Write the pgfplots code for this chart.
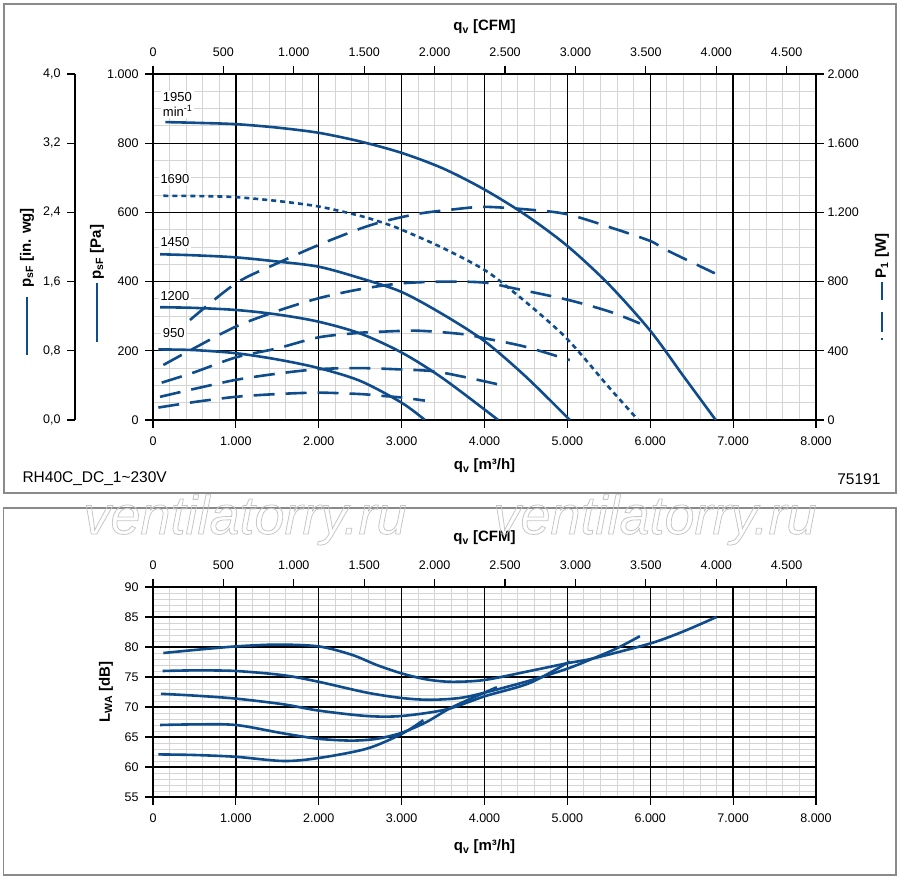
\documentclass[border=0pt]{standalone}
\usepackage{fontspec}
\setmainfont{Liberation Sans}
\usepackage{pgfplots}
\pgfplotsset{compat=1.18}
\definecolor{cblue}{HTML}{0F4C8C}
\definecolor{mgrid}{HTML}{D4D4D4}
\definecolor{frame}{HTML}{8A8A8A}
\newcommand\tl{\fontsize{12.5}{15}\selectfont}
\newcommand\ttl{\fontsize{15}{18}\selectfont\bfseries}

\pgfplotsset{
  base/.style={
    scale only axis,
    /pgf/number format/assume math mode=true,
    /pgf/number format/1000 sep={.},
    /pgf/number format/use comma,
    tick label style={font=\tl, black},
    major tick length=8pt,
    minor tick length=0pt,
    tick align=outside,
    major tick style={black, line width=1.2pt},
    axis line style={black, line width=1.5pt},
  },
  botlab/.style={xticklabel style={yshift=-5pt}},
  toplab/.style={xticklabel style={yshift=6pt}},
  leftlab/.style={yticklabel style={xshift=-3pt}},
  minorgrid/.style={
    scale only axis, grid=minor, minor grid style={mgrid, line width=0.9pt},
    xticklabels={}, yticklabels={}, major tick length=0pt, minor tick length=0pt,
    axis line style={draw=none}, major tick style={draw=none}, minor tick style={draw=none},
  },
  majorgrid/.style={
    grid=major,
    major grid style={black, line width=1.3pt},
  },
  curve/.style={cblue, line width=2.6pt, smooth, no marks},
  pdash/.style={dash pattern=on 21pt off 11pt},
  pdot/.style={dash pattern=on 5pt off 4pt},
}

\begin{document}
\begin{tikzpicture}[x=1pt,y=1pt]
\path[use as bounding box] (0pt,0pt) rectangle (900pt,879pt);
% frames
\draw[frame, line width=1.4pt] (4pt,386pt) rectangle (896pt,875pt);
\draw[frame, line width=1.4pt] (3.5pt,4pt) rectangle (896pt,371pt);

% ================= TOP PANEL =================
\begin{axis}[minorgrid, at={(153pt,459pt)}, anchor=south west,
  width=663pt, height=346pt,
  xmin=0, xmax=8000, ymin=0, ymax=1000,
  xtick={0,1000,...,8000}, ytick={0,200,...,1000},
  minor x tick num=4, minor y tick num=3]
\end{axis}
\begin{axis}[base, majorgrid, botlab, leftlab, at={(153pt,459pt)}, anchor=south west,
  width=663pt, height=346pt,
  xmin=0, xmax=8000, ymin=0, ymax=1000,
  xtick={0,1000,...,8000}, ytick={0,200,...,1000},
  xtick pos=left, ytick pos=left]
% pressure curves (Pa)
\addplot[curve] coordinates {(150,861) (500,859) (1000,855) (1500,845) (2000,830) (2500,805) (3000,772) (3500,727) (4000,666) (4500,592) (5000,503) (5500,392) (6000,258) (6400,127) (6790,0)};
\addplot[curve, pdot] coordinates {(125,648) (600,647) (1000,644) (1500,633) (2000,617) (2500,590) (2800,568) (3000,550) (3500,497) (4005,433) (4346,371) (4700,300) (4970,241) (5200,180) (5500,95) (5854,0)};
\addplot[curve] coordinates {(85,479) (500,476) (1000,470) (1500,458) (2000,443) (2500,410) (3000,370) (3500,305) (4000,228) (4500,125) (5030,0)};
\addplot[curve] coordinates {(85,326) (500,324) (1000,318) (1500,305) (2000,284) (2500,250) (3000,195) (3500,120) (4165,0)};
\addplot[curve] coordinates {(65,204) (500,202) (1000,193) (1500,175) (2000,150) (2500,113) (3000,50) (3281,0)};
% speed labels
\node[anchor=west, fill=white, inner sep=1.5pt, font=\fontsize{13}{15}\selectfont, align=left] at (axis cs:100,913) {1950\\min\textsuperscript{-1}};
\node[anchor=west, fill=white, inner sep=1.5pt, font=\fontsize{13}{15}\selectfont] at (axis cs:70,697) {1690};
\node[anchor=west, fill=white, inner sep=1.5pt, font=\fontsize{13}{15}\selectfont] at (axis cs:70,514) {1450};
\node[anchor=west, fill=white, inner sep=1.5pt, font=\fontsize{13}{15}\selectfont] at (axis cs:70,358) {1200};
\node[anchor=west, fill=white, inner sep=1.5pt, font=\fontsize{13}{15}\selectfont] at (axis cs:100,251) {950};
\end{axis}

% power axis (right)
\begin{axis}[base, at={(153pt,459pt)}, anchor=south west,
  width=663pt, height=346pt,
  xmin=0, xmax=8000, ymin=0, ymax=2000,
  axis x line=none, axis y line*=right,
  ytick={0,400,...,2000}]
\addplot[curve, pdash] coordinates {(446,578) (1000,790) (1500,906) (2000,1012) (2500,1106) (2800,1150) (3200,1192) (3600,1216) (4005,1232) (4588,1214) (5010,1188) (5553,1108) (6003,1034) (6197,982) (6779,848)};
\addplot[curve, pdash] coordinates {(125,318) (500,416) (1000,540) (1500,630) (2000,704) (2500,756) (3000,790) (3543,800) (4005,794) (4346,762) (5010,694) (5513,626) (5875,558)};
\addplot[curve, pdash] coordinates {(105,216) (500,276) (1000,362) (1500,414) (2000,478) (2500,504) (2738,510) (3200,516) (3743,496) (4005,472) (4488,424) (5030,346)};
\addplot[curve, pdash] coordinates {(85,134) (500,180) (1000,232) (1500,268) (2000,294) (2500,300) (3000,292) (3381,282) (3743,250) (4165,206)};
\addplot[curve, pdash] coordinates {(65,72) (500,104) (1000,134) (1500,150) (2000,158) (2500,150) (2750,140) (3000,130) (3281,112)};
\end{axis}

% CFM axis (top)
\begin{axis}[base, toplab, at={(153pt,459pt)}, anchor=south west,
  width=663pt, height=346pt,
  xmin=0, xmax=4708.6, ymin=0, ymax=1,
  axis y line=none, axis x line*=top,
  xtick={0,500,...,4500}]
\end{axis}

% in. wg axis (far left)
\begin{axis}[base, at={(75pt,459pt)}, anchor=south west,
  width=1pt, height=346pt,
  xmin=0, xmax=1, ymin=0, ymax=4,
  axis x line=none, axis y line*=left,
  ytick={0,0.8,1.6,2.4,3.2,4},
  yticklabel style={xshift=-3pt, /pgf/number format/fixed, /pgf/number format/fixed zerofill, /pgf/number format/precision=1}]
\end{axis}

% top panel texts
\node[font=\ttl] at (484.5pt,852pt) {q\textsubscript{v} [CFM]};
\node[font=\ttl] at (484.5pt,413pt) {q\textsubscript{v} [m³/h]};
\node[anchor=west, font=\fontsize{15.5}{18}\selectfont] at (19pt,400pt) {RH40C\_DC\_1\textasciitilde 230V};
\node[anchor=east, font=\fontsize{15.5}{18}\selectfont] at (884pt,400pt) {75191};
\node[rotate=90, font=\ttl] at (27pt,631pt) {p\textsubscript{sF} [in. wg]};
\draw[cblue, line width=2.6pt] (27pt,582pt) -- (27pt,524pt);
\node[rotate=90, font=\ttl] at (97pt,627pt) {p\textsubscript{sF} [Pa]};
\draw[cblue, line width=2.6pt] (97pt,596pt) -- (97pt,537pt);
\node[rotate=90, font=\ttl] at (882pt,623pt) {P\textsubscript{1} [W]};
\draw[cblue, line width=2.6pt, dash pattern=on 18pt off 12pt on 20pt off 6pt on 2pt] (882pt,597pt) -- (882pt,539pt);

% ================= BOTTOM PANEL =================
\begin{axis}[minorgrid, at={(153pt,82pt)}, anchor=south west,
  width=663pt, height=210pt,
  xmin=0, xmax=8000, ymin=55, ymax=90,
  xtick={0,1000,...,8000}, ytick={55,60,...,90},
  minor x tick num=4, minor y tick num=4]
\end{axis}
\begin{axis}[base, majorgrid, botlab, leftlab, at={(153pt,82pt)}, anchor=south west,
  width=663pt, height=210pt,
  xmin=0, xmax=8000, ymin=55, ymax=90,
  xtick={0,1000,...,8000}, ytick={55,60,...,90},
  xtick pos=left, ytick pos=left]
\addplot[curve] coordinates {(125,79.0) (500,79.5) (1000,80.1) (1500,80.4) (2000,80.1) (2400,78.7) (2700,77.0) (3000,75.6) (3300,74.6) (3600,74.2) (4000,74.5) (4546,76.0) (5002,77.3) (5312,78.1) (6003,80.6) (6400,82.6) (6800,85.0)};
\addplot[curve] coordinates {(115,76.0) (500,76.1) (1000,76.0) (1573,75.3) (2000,74.2) (2578,72.4) (3000,71.5) (3341,71.2) (3700,71.5) (4005,72.4) (4546,74.4) (5002,76.4) (5312,78.1) (5600,79.8) (5875,81.8)};
\addplot[curve] coordinates {(95,72.2) (500,71.9) (1000,71.4) (1573,70.45) (2000,69.4) (2578,68.5) (3000,68.5) (3540,69.6) (4005,71.8) (4546,74.0) (5030,77.6)};
\addplot[curve] coordinates {(85,67.0) (500,67.1) (1000,67.0) (1573,65.6) (2000,64.7) (2400,64.4) (2700,64.7) (3000,65.7) (3300,67.5) (3600,69.9) (4000,72.4) (4150,73.3)};
\addplot[curve] coordinates {(65,62.1) (500,62.0) (1000,61.7) (1573,61.0) (2000,61.5) (2578,63.05) (3000,65.5) (3262,67.8)};
\end{axis}

\begin{axis}[base, toplab, at={(153pt,82pt)}, anchor=south west,
  width=663pt, height=210pt,
  xmin=0, xmax=4708.6, ymin=0, ymax=1,
  axis y line=none, axis x line*=top,
  xtick={0,500,...,4500}]
\end{axis}

\node[font=\ttl] at (484.5pt,341pt) {q\textsubscript{v} [CFM]};
\node[font=\ttl] at (484.5pt,32pt) {q\textsubscript{v} [m³/h]};
\node[rotate=90, font=\ttl] at (106pt,187pt) {L\textsubscript{WA} [dB]};

% watermark
\node[font=\fontsize{54}{60}\selectfont\itshape, text=gray!45] at (245pt,359pt) {\special{pdf:literal direct 1 Tr 0.8 w}ventilatorry.ru\special{pdf:literal direct 0 Tr}};
\node[font=\fontsize{54}{60}\selectfont\itshape, text=gray!45] at (655pt,359pt) {\special{pdf:literal direct 1 Tr 0.8 w}ventilatorry.ru\special{pdf:literal direct 0 Tr}};
\end{tikzpicture}
\end{document}
